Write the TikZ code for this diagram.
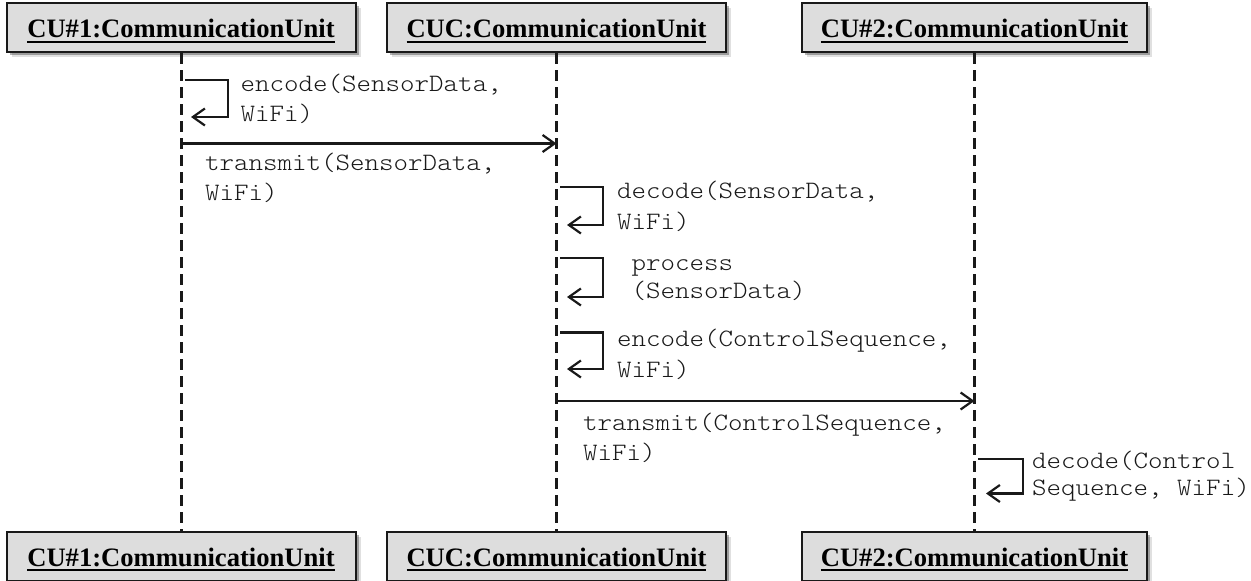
\documentclass[tikz,border=0pt]{standalone}
\usepackage{fontspec}
\setmainfont{Liberation Serif}
\newfontfamily\monofont{lmmonolt10-regular}[Extension=.otf, FakeStretch=1.105]
\usetikzlibrary{arrows.meta,shadows}

\definecolor{boxgray}{RGB}{221,221,221}
\definecolor{ink}{RGB}{25,25,25}

% underlined object name with a heavier rule
\newcommand\objname[1]{\setbox0\hbox{#1}\rlap{\rule[-5pt]{\wd0}{1.8pt}}\box0}
\newcommand\msgfont[1]{\monofont\fontsize{25}{#1}\selectfont}

\begin{document}
\begin{tikzpicture}[x=1pt,y=-1pt,
  objbox/.style={draw=ink, line width=2pt, fill=boxgray, inner sep=0pt,
    minimum height=49pt, text height=20pt, text depth=0pt,
    font=\fontsize{26.6}{30}\selectfont\bfseries,
    drop shadow={shadow xshift=5pt, shadow yshift=-5pt, opacity=.12, fill=black},
    drop shadow={shadow xshift=3pt, shadow yshift=-3pt, opacity=.3, fill=black}},
  lifeline/.style={draw=ink, line width=3pt, dash pattern=on 11pt off 6pt},
  msg/.style={draw=ink, line width=2.2pt, -{Straight Barb[length=12pt,width=17pt,line width=2.2pt]}},
  msgtext/.style={anchor=base west, inner sep=0pt, align=left, text=ink}]

\useasboundingbox (0,0) rectangle (1251,581);

% object heads
\node[objbox, minimum width=349pt] (t1) at (181,27.5) {\objname{CU\#1:CommunicationUnit}};
\node[objbox, minimum width=339pt] (t2) at (556.5,27.5) {\objname{CUC:CommunicationUnit}};
\node[objbox, minimum width=345pt] (t3) at (974.5,27.5) {\objname{CU\#2:CommunicationUnit}};

% object feet
\node[objbox, minimum width=349pt] (b1) at (181,556) {\objname{CU\#1:CommunicationUnit}};
\node[objbox, minimum width=339pt] (b2) at (556.5,556) {\objname{CUC:CommunicationUnit}};
\node[objbox, minimum width=345pt] (b3) at (974.5,556) {\objname{CU\#2:CommunicationUnit}};

% lifelines
\draw[lifeline] (t1.south) -- (b1.north);
\draw[lifeline] (t2.south) -- (b2.north);
\draw[lifeline] (t3.south) -- (b3.north);

% message end points
\coordinate (enc1s) at (185,80);    \coordinate (enc1e) at (191,117);
\coordinate (tr1s)  at (181,143.5); \coordinate (tr1e)  at (556.5,143.5);
\coordinate (dec2s) at (560,187);   \coordinate (dec2e) at (567,225);
\coordinate (proc2s) at (560,258);  \coordinate (proc2e) at (567,297);
\coordinate (enc2s) at (560,332.5); \coordinate (enc2e) at (567,369);
\coordinate (tr2s)  at (556.5,401); \coordinate (tr2e)  at (974.5,401);
\coordinate (dec3s) at (978,459);   \coordinate (dec3e) at (986,493.5);

% text nodes are anchored at the baseline of their last line

% CU#1
\draw[msg] (enc1s) -- ++(43,0) |- (enc1e);
\node[msgtext, font=\msgfont{30}] (enc1t) at (240.5,121.7) {encode(SensorData,\\WiFi)};
\draw[msg] (tr1s) -- (tr1e);
\node[msgtext, font=\msgfont{30}] (tr1t) at (205,200) {transmit(SensorData,\\WiFi)};

% CUC
\draw[msg] (dec2s) -- ++(43,0) |- (dec2e);
\node[msgtext, font=\msgfont{31}] (dec2t) at (617,229.3) {decode(SensorData,\\WiFi)};
\draw[msg] (proc2s) -- ++(43,0) |- (proc2e);
\node[msgtext, font=\msgfont{28.5}] (proc2t) at (631.5,298.5) {process\\(SensorData)};
\draw[msg] (enc2s) -- ++(43,0) |- (enc2e);
\node[msgtext, font=\msgfont{30.5}] (enc2t) at (617,377.2) {encode(ControlSequence,\\WiFi)};
\draw[msg] (tr2s) -- (tr2e);
\node[msgtext, font=\msgfont{30}] (tr2t) at (583,460) {transmit(ControlSequence,\\WiFi)};

% CU#2
\draw[msg] (dec3s) -- ++(45,0) |- (dec3e);
\node[msgtext, font=\msgfont{27}] (dec3t) at (1032,495) {decode(Control\\Sequence, WiFi)};

\end{tikzpicture}
\end{document}
